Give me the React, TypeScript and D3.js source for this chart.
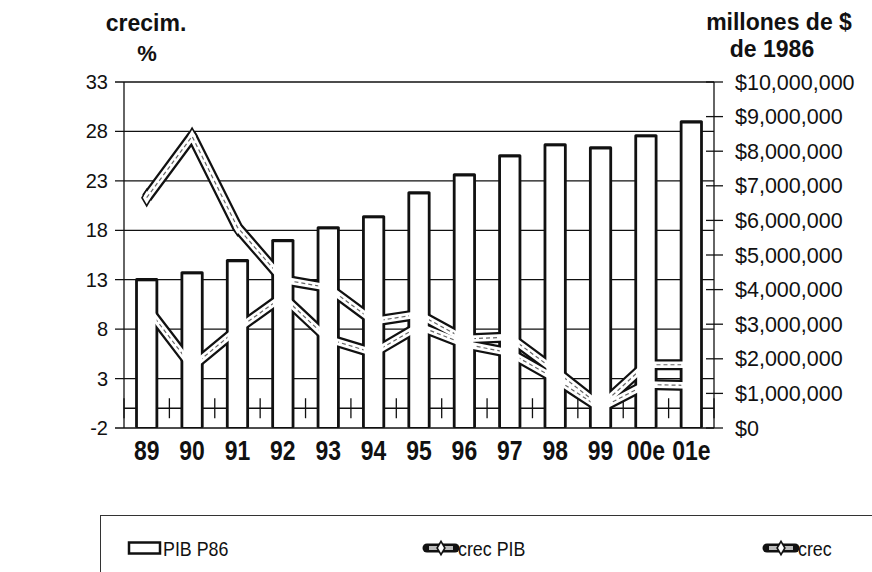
import React, { useEffect, useRef } from "react";
import * as d3 from "d3";

// años (e = estimado)
const years = ["89", "90", "91", "92", "93", "94", "95", "96", "97", "98", "99", "00e", "01e"];

// PIB a precios de 1986 (millones de $), eje derecho
const pibP86 = [4280000, 4480000, 4830000, 5410000, 5780000, 6100000, 6790000, 7310000, 7860000, 8180000, 8090000, 8440000, 8840000];

// crecimiento %, eje izquierdo
const crecPib = [21.3, 27.5, 18.3, 13.0, 12.2, 8.8, 9.5, 7.0, 7.2, 3.8, 0.2, 4.4, 4.4];
const crecReal = [10.2, 4.2, 8.0, 11.3, 7.0, 5.6, 8.3, 6.5, 5.6, 3.0, 0.0, 2.4, 2.3];

const leftTicks = [-2, 3, 8, 13, 18, 23, 28, 33];
const rightTicks = [0, 1000000, 2000000, 3000000, 4000000, 5000000, 6000000, 7000000, 8000000, 9000000, 10000000];
const legendLabels = ["PIB P86", "crec PIB", "crec"];

const W = 872;
const H = 572;
const plot = { left: 124, right: 714, top: 82, bottom: 428 };
const font = "'Liberation Sans', Arial, sans-serif";
const ink = "#111";

export default function App() {
  const ref = useRef<SVGSVGElement>(null);

  useEffect(() => {
    const svg = d3.select(ref.current);
    svg.selectAll("*").remove();

    const x = d3
      .scaleBand()
      .domain(years)
      .range([plot.left, plot.right])
      .paddingInner(0.56)
      .paddingOuter(0.28);
    const yL = d3.scaleLinear().domain([-2, 33]).range([plot.bottom, plot.top]);
    const yR = d3.scaleLinear().domain([0, 10000000]).range([plot.bottom, plot.top]);
    const bw = x.bandwidth();
    const cx = (d: string) => (x(d) as number) + bw / 2;
    const edges = years.map((d) => (x(d) as number) - (x.step() - bw) / 2).concat([plot.right]);

    const text = (
      g: any,
      s: string,
      tx: number,
      ty: number,
      size: number,
      anchor = "start",
      weight = "normal",
      sx = 1
    ) =>
      g
        .append("text")
        .attr("transform", `translate(${tx},${ty}) scale(${sx},1)`)
        .attr("text-anchor", anchor)
        .attr("font-family", font)
        .attr("font-size", size)
        .attr("font-weight", weight)
        .attr("fill", ink)
        .text(s);

    // grid + axes
    const grid = svg.append("g").attr("stroke", ink).attr("stroke-width", 1.3);
    grid
      .selectAll("line.h")
      .data(leftTicks)
      .join("line")
      .attr("x1", plot.left - 9)
      .attr("x2", plot.right)
      .attr("y1", (d) => yL(d))
      .attr("y2", (d) => yL(d));
    grid.append("line").attr("x1", plot.left).attr("x2", plot.left).attr("y1", plot.top).attr("y2", plot.bottom);
    grid.append("line").attr("x1", plot.right).attr("x2", plot.right).attr("y1", plot.top).attr("y2", plot.bottom);
    grid
      .selectAll("line.r")
      .data(rightTicks)
      .join("line")
      .attr("x1", plot.right - 8)
      .attr("x2", plot.right + 9)
      .attr("y1", (d) => yR(d))
      .attr("y2", (d) => yR(d));
    // eje de categorías en 0
    grid.append("line").attr("x1", plot.left).attr("x2", plot.right).attr("y1", yL(0)).attr("y2", yL(0));
    grid
      .selectAll("line.c")
      .data(edges)
      .join("line")
      .attr("x1", (d) => d)
      .attr("x2", (d) => d)
      .attr("y1", yL(0) - 10)
      .attr("y2", yL(0) + 10);

    const series = [crecPib, crecReal];
    const line = d3
      .line<number>()
      .x((_, i) => cx(years[i]))
      .y((d) => yL(d));
    const diamond = (size: number) => d3.symbol(d3.symbolDiamond, size)();

    // capa negra: contornos de barras y líneas
    const gBlack = svg.append("g");
    gBlack
      .selectAll("rect")
      .data(pibP86)
      .join("rect")
      .attr("x", (_, i) => (x(years[i]) as number) - 1.6)
      .attr("y", (d) => yR(d) - 1.8)
      .attr("width", bw + 3.2)
      .attr("height", (d) => plot.bottom - yR(d) + 1.8)
      .attr("rx", 1.5)
      .attr("fill", ink);
    series.forEach((s) => {
      gBlack
        .append("path")
        .attr("d", line(s))
        .attr("fill", "none")
        .attr("stroke", ink)
        .attr("stroke-width", 11)
        .attr("stroke-linejoin", "round");
      gBlack
        .selectAll(null)
        .data(s)
        .join("path")
        .attr("d", diamond(110))
        .attr("transform", (d, i) => `translate(${cx(years[i])},${yL(d)})`)
        .attr("fill", ink);
    });

    // capa blanca
    const gWhite = svg.append("g");
    gWhite
      .selectAll("rect")
      .data(pibP86)
      .join("rect")
      .attr("x", (_, i) => (x(years[i]) as number) + 1.2)
      .attr("y", (d) => yR(d) + 1.4)
      .attr("width", bw - 2.4)
      .attr("height", (d) => plot.bottom - yR(d) - 2.4)
      .attr("fill", "#fff");
    series.forEach((s) => {
      gWhite
        .append("path")
        .attr("d", line(s))
        .attr("fill", "none")
        .attr("stroke", "#fff")
        .attr("stroke-width", 6.5)
        .attr("stroke-linejoin", "round");
      gWhite
        .selectAll(null)
        .data(s)
        .join("path")
        .attr("d", diamond(50))
        .attr("transform", (d, i) => `translate(${cx(years[i])},${yL(d)})`)
        .attr("fill", "#fff");
    });

    // línea central punteada, oculta dentro de las barras
    const mask = svg.append("defs").append("mask").attr("id", "barsMask");
    mask.append("rect").attr("width", W).attr("height", H).attr("fill", "#fff");
    mask
      .selectAll("rect.b")
      .data(pibP86)
      .join("rect")
      .attr("x", (_, i) => x(years[i]) as number)
      .attr("y", (d) => yR(d))
      .attr("width", bw)
      .attr("height", (d) => plot.bottom - yR(d))
      .attr("fill", "#000");
    series.forEach((s) => {
      svg
        .append("path")
        .attr("d", line(s))
        .attr("mask", "url(#barsMask)")
        .attr("fill", "none")
        .attr("stroke", "#666")
        .attr("stroke-width", 1.2)
        .attr("stroke-dasharray", "4 3");
    });

    // etiquetas de ejes
    leftTicks.forEach((t) => text(svg, String(t), 108, yL(t) + 7, 20, "end"));
    rightTicks.forEach((t) => text(svg, "$" + d3.format(",")(t), 735, yR(t) + 7.5, 21.5));
    years.forEach((d) => text(svg, d, cx(d), 460, 27, "middle", "bold", 0.85));

    text(svg, "crecim.", 146, 31, 23, "middle", "bold");
    text(svg, "%", 147, 61, 22, "middle", "bold");
    text(svg, "millones de $", 779, 30, 23, "middle", "bold");
    text(svg, "de 1986", 772, 57, 23, "middle", "bold");

    // leyenda
    const lg = svg.append("g");
    lg.append("rect")
      .attr("x", 100.5)
      .attr("y", 515.5)
      .attr("width", 800)
      .attr("height", 100)
      .attr("fill", "none")
      .attr("stroke", "#333")
      .attr("stroke-width", 1);
    const ly = 548;
    lg.append("rect")
      .attr("x", 129)
      .attr("y", ly - 5.5)
      .attr("width", 31)
      .attr("height", 11)
      .attr("fill", "#fff")
      .attr("stroke", ink)
      .attr("stroke-width", 2.5);
    text(lg, legendLabels[0], 163, ly + 7.5, 21, "start", "normal", 0.85);
    [
      [427, 455, 458],
      [767, 795, 798],
    ].forEach(([x0, x1, tx], k) => {
      const mid = (x0 + x1) / 2;
      lg.append("line").attr("x1", x0).attr("x2", x1).attr("y1", ly).attr("y2", ly)
        .attr("stroke", ink).attr("stroke-width", 9).attr("stroke-linecap", "round");
      lg.append("line").attr("x1", x0 + 2).attr("x2", x1 - 2).attr("y1", ly).attr("y2", ly)
        .attr("stroke", "#bbb").attr("stroke-width", 4);
      lg.append("path").attr("d", diamond(80)).attr("transform", `translate(${mid},${ly})`).attr("fill", ink);
      lg.append("path").attr("d", diamond(30)).attr("transform", `translate(${mid},${ly})`).attr("fill", "#fff");
      text(lg, legendLabels[k + 1], tx, ly + 7.5, 21, "start", "normal", 0.85);
    });
  }, []);

  return (
    <svg
      ref={ref}
      width={W}
      height={H}
      style={{ position: "absolute", left: 0, top: 0, background: "#fff" }}
    />
  );
}
